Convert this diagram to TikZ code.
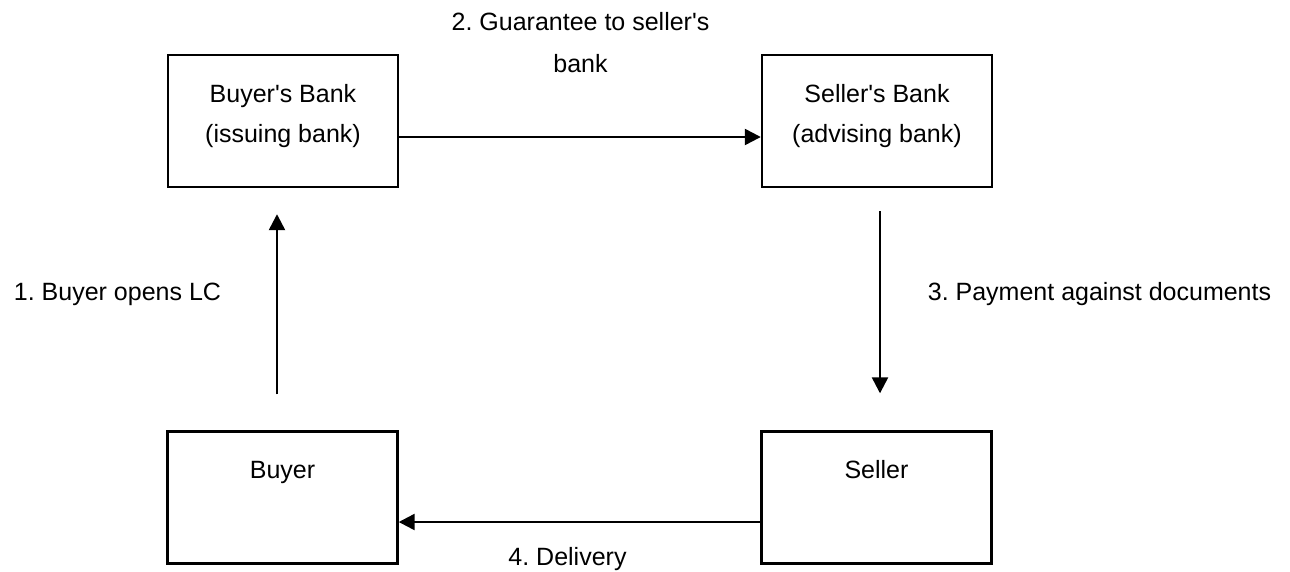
\documentclass[tikz,border=0pt]{standalone}
\usepackage{fontspec}
\setmainfont{Liberation Sans}
\usetikzlibrary{arrows.meta}
\frenchspacing
\begin{document}
\begin{tikzpicture}[x=1pt,y=-1pt,
  box/.style={draw=black,line width=2.4pt,minimum width=230pt,minimum height=132pt,inner sep=0pt},
  txt/.style={font=\fontsize{25}{40}\selectfont,inner sep=0pt,anchor=base,align=center},
  arr/.style={line width=2.4pt,-{Triangle[length=16pt,width=16pt]}}]
\useasboundingbox (0,0) rectangle (1290,571);
\node[box] (bb) at (283,121) {};
\node[box] (sb) at (877,121) {};
\node[box] (by) at (282.5,497.5) {};
\node[box] (sl) at (876.5,497.5) {};
\node[txt] (bbt) at (283,142) {Buyer\textquotesingle s Bank\\(issuing bank)};
\node[txt] (sbt) at (877,142) {Seller\textquotesingle s Bank\\(advising bank)};
\node[txt] (byt) at (282.5,478) {Buyer};
\node[txt] (slt) at (876.5,478) {Seller};
\node[txt,font=\fontsize{25}{42}\selectfont] (l2) at (580.5,72) {2. Guarantee to seller\textquotesingle s\\bank};
\node[txt] (l1) at (117.5,300) {1. Buyer opens LC};
\node[txt] (l3) at (1099.5,300) {3. Payment against documents};
\node[txt] (l4) at (567.5,565) {4. Delivery};
\draw[arr] ([shift={(-5.5,-36)}]by.north) -- ([shift={(-6,26)}]bb.south);
\draw[arr] ([shift={(0,16)}]bb.east) -- ([shift={(0,16)}]sb.west);
\draw[arr] ([shift={(3,23)}]sb.south) -- ([shift={(3.5,-37)}]sl.north);
\draw[arr] ([shift={(0,24.5)}]sl.west) -- ([shift={(0,24.5)}]by.east);
\end{tikzpicture}
\end{document}
